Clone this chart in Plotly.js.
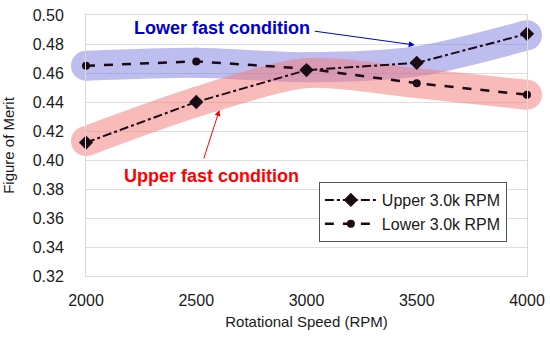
<!DOCTYPE html>
<html>
<head>
<meta charset="utf-8">
<script src="https://cdn.plot.ly/plotly-3.0.1.min.js"></script>
<style>html,body{margin:0;padding:0;background:#fff;}#chart{width:550px;height:340px;}</style>
</head>
<body>
<div id="chart"></div>
<script>
const speeds = [2000, 2500, 3000, 3500, 4000];
const upperFOM = [0.412, 0.440, 0.462, 0.467, 0.487];
const lowerFOM = [0.465, 0.468, 0.463, 0.453, 0.445];
const blueBand = [0.465, 0.467, 0.464, 0.468, 0.486];
const redBand = [0.413, 0.440, 0.460, 0.453, 0.445];
const seriesNames = ['Upper 3.0k RPM', 'Lower 3.0k RPM'];
const xTicks = [2000, 2500, 3000, 3500, 4000];
const yTicks = [0.32, 0.34, 0.36, 0.38, 0.40, 0.42, 0.44, 0.46, 0.48, 0.50];

const font = 'Liberation Sans, Arial, sans-serif';

const traces = [
  {x: speeds, y: blueBand, mode: 'lines+markers', line: {color: 'rgb(110,110,220)', width: 30, shape: 'spline', smoothing: 0.8},
   marker: {size: 30, color: 'rgb(110,110,220)'}, opacity: 0.45, cliponaxis: false, showlegend: false, hoverinfo: 'skip'},
  {x: speeds, y: redBand, mode: 'lines+markers', line: {color: 'rgb(245,120,120)', width: 30, shape: 'spline', smoothing: 0.8},
   marker: {size: 30, color: 'rgb(245,120,120)'}, opacity: 0.5, cliponaxis: false, showlegend: false, hoverinfo: 'skip'},
  {x: speeds, y: upperFOM, name: seriesNames[0], mode: 'lines+markers', cliponaxis: false,
   line: {color: '#1a0a14', width: 2, dash: 'dashdot'}, marker: {symbol: 'diamond', size: 11, color: '#1a0a14'}},
  {x: speeds, y: lowerFOM, name: seriesNames[1], mode: 'lines+markers', cliponaxis: false,
   line: {color: '#1a0a14', width: 2.5, dash: 'dash'}, marker: {symbol: 'circle', size: 8, color: '#1a0a14'}}
];

const layout = {
  width: 550, height: 340,
  margin: {l: 86, r: 23, t: 15, b: 64},
  paper_bgcolor: '#fff', plot_bgcolor: '#fff',
  font: {family: font, size: 16, color: '#1a1a1a'},
  xaxis: {range: [2000, 4000], tickvals: xTicks, ticktext: xTicks.map(String),
    showgrid: false, showline: true, linecolor: '#d9d9d9', linewidth: 1, mirror: true,
    zeroline: false, ticks: '', ticklabelstandoff: 10, tickfont: {size: 16},
    title: {text: 'Rotational Speed (RPM)', font: {size: 15}, standoff: 8}},
  yaxis: {range: [0.32, 0.50], tickvals: yTicks, ticktext: yTicks.map(v => v.toFixed(2)),
    showgrid: true, gridcolor: '#dedede', gridwidth: 1, showline: true, linecolor: '#d9d9d9', mirror: true,
    zeroline: false, ticks: '', ticklabelstandoff: 18, tickfont: {size: 16},
    title: {text: 'Figure of Merit', font: {size: 15}, standoff: 14}},
  legend: {x: 0.528, y: 0.36, xanchor: 'left', yanchor: 'top', bgcolor: '#fff', bordercolor: '#555', borderwidth: 1,
    font: {size: 16}, tracegroupgap: 4, itemwidth: 52},
  showlegend: true,
  annotations: [
    {x: 2616, y: 0.491, xref: 'x', yref: 'y', text: '<b>Lower fast condition</b>', showarrow: false,
     font: {size: 18, color: '#0000cc', family: font}},
    {x: 3491, y: 0.4793, ax: 3030, ay: 0.489, xref: 'x', yref: 'y', axref: 'x', ayref: 'y', text: '',
     showarrow: true, arrowhead: 2, arrowsize: 1.2, arrowwidth: 1, arrowcolor: '#0000dd'},
    {x: 2570, y: 0.389, xref: 'x', yref: 'y', text: '<b>Upper fast condition</b>', showarrow: false,
     font: {size: 18, color: '#ff0000', family: font}},
    {x: 2605, y: 0.4345, ax: 2532, ay: 0.400, xref: 'x', yref: 'y', axref: 'x', ayref: 'y', text: '',
     showarrow: true, arrowhead: 2, arrowsize: 1.2, arrowwidth: 1, arrowcolor: '#ff0000'}
  ]
};

Plotly.newPlot('chart', traces, layout, {displayModeBar: false, staticPlot: true});
</script>
</body>
</html>
